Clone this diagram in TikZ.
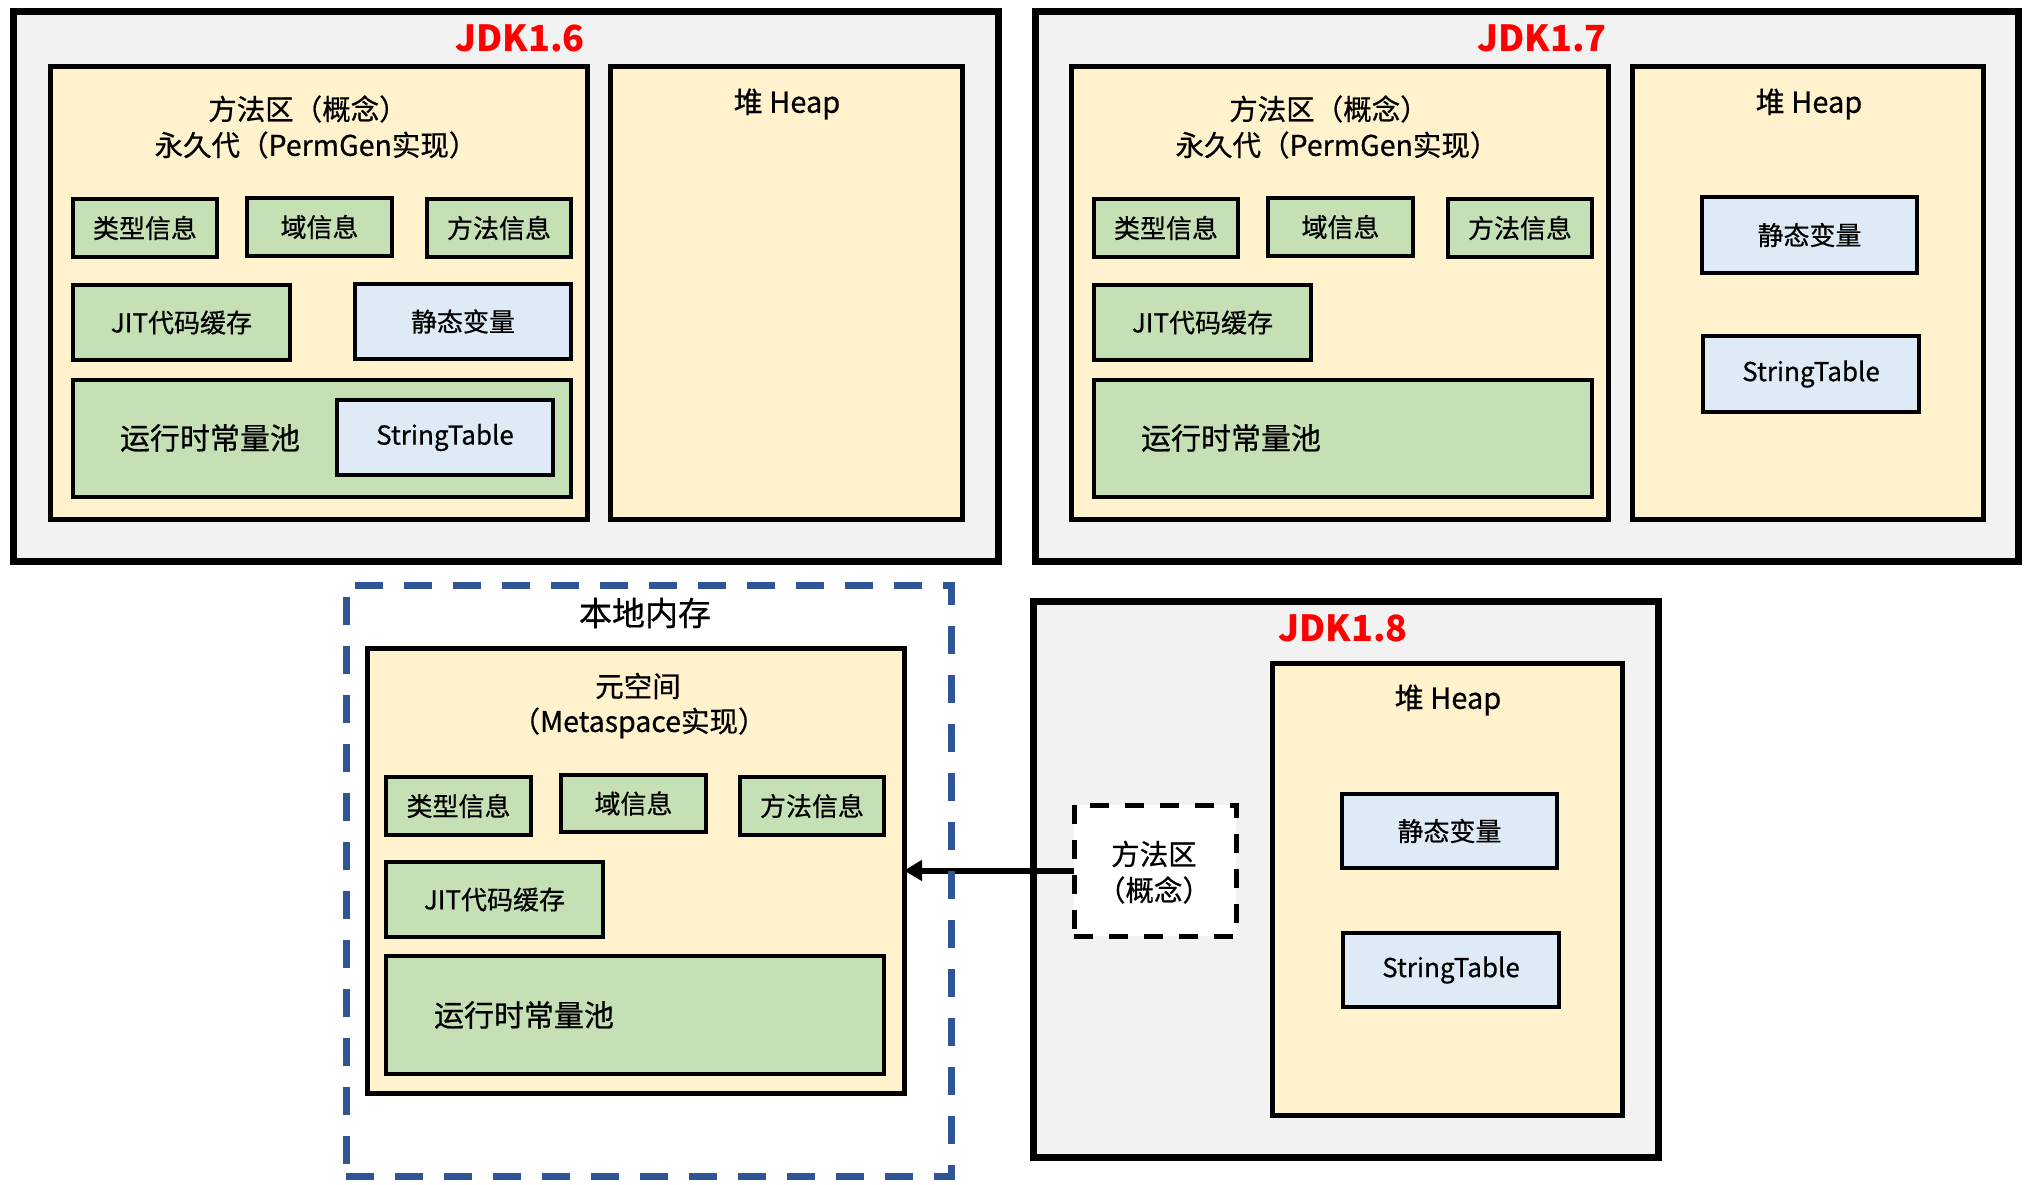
\documentclass[tikz,border=0pt]{standalone}
\usepackage{fontspec}
\setmainfont{Noto Sans CJK SC}
\newfontfamily\medfont{Noto Sans CJK SC}[FakeBold=0.6]
\usetikzlibrary{arrows.meta}
\definecolor{outerfill}{HTML}{F2F2F2}
\definecolor{areafill}{HTML}{FFF2CC}
\definecolor{greenfill}{HTML}{C5E0B4}
\definecolor{bluefill}{HTML}{DEEBF7}
\definecolor{dashblue}{HTML}{2F5597}
\definecolor{titlered}{HTML}{FF0000}
\newcommand\bx[7]{\node[#2, minimum width=#5pt-#3pt, minimum height=#6pt-#4pt] (#1) at ({(#3+#5)/2},{(#4+#6)/2}) {#7};}
\tikzset{
  every node/.style={inner sep=0pt, outer sep=0pt},
  outerbox/.style={draw, line width=7pt, fill=outerfill},
  areabox/.style={draw, line width=5pt, fill=areafill},
  greenbox/.style={draw, line width=3.5pt, fill=greenfill, font=\medfont\fontsize{26}{30}\selectfont},
  bluebox/.style={draw, line width=3.5pt, fill=bluefill, font=\medfont\fontsize{26}{30}\selectfont},
  jdktitle/.style={text=titlered, font=\fontsize{36}{40}\selectfont\bfseries},
  areatitle/.style={font=\medfont\fontsize{28.5}{32}\selectfont},
  heaptitle/.style={font=\medfont\fontsize{29}{33}\selectfont},
  pooltext/.style={font=\medfont\fontsize{30}{34}\selectfont},
  mfqdash/.style={draw, line width=5pt, fill=white, dash pattern=on 19pt off 16pt},
  localdash/.style={draw=dashblue, line width=7pt, dash pattern=on 28pt off 21pt},
}
\begin{document}
\begin{tikzpicture}[x=1pt,y=-1pt]
\useasboundingbox[fill=white] (0,0) rectangle (2026,1185);

% ---------------- JDK1.6 ----------------
\bx{o6}{outerbox}{13}{12}{998}{561}{}
\node[jdktitle] (t6) at (520,38) {JDK1.6};
\bx{m6}{areabox}{50}{67}{587}{519}{}
\bx{h6}{areabox}{610}{67}{962}{519}{}
\node[areatitle] (m6a) at (308,109) {方法区（概念）};
\node[areatitle] (m6b) at (316,145) {永久代（PermGen实现）};
\node[heaptitle] (h6t) at (787,104) {堆 Heap};
\bx{lx6}{greenbox}{73}{199}{217}{257}{类型信息}
\bx{yx6}{greenbox}{247}{198}{392}{256}{域信息}
\bx{ff6}{greenbox}{427}{199}{571}{257}{方法信息}
\bx{jit6}{greenbox}{73}{285}{290}{360}{JIT代码缓存}
\bx{jt6}{bluebox}{355}{284}{571}{359}{静态变量}
\bx{cp6}{greenbox}{73}{380}{571}{497}{}
\node[pooltext] (cp6t) at (210,438) {运行时常量池};
\bx{st6}{bluebox}{337}{400}{553}{475}{StringTable}

% ---------------- JDK1.7 ----------------
\bx{o7}{outerbox}{1035}{12}{2018}{561}{}
\node[jdktitle] (t7) at (1542,38) {JDK1.7};
\bx{m7}{areabox}{1071}{67}{1608}{519}{}
\bx{h7}{areabox}{1632}{67}{1983}{519}{}
\node[areatitle] (m7a) at (1329,109) {方法区（概念）};
\node[areatitle] (m7b) at (1337,145) {永久代（PermGen实现）};
\node[heaptitle] (h7t) at (1809,104) {堆 Heap};
\bx{lx7}{greenbox}{1094}{199}{1238}{257}{类型信息}
\bx{yx7}{greenbox}{1268}{198}{1413}{256}{域信息}
\bx{ff7}{greenbox}{1448}{199}{1592}{257}{方法信息}
\bx{jit7}{greenbox}{1094}{285}{1311}{360}{JIT代码缓存}
\bx{cp7}{greenbox}{1094}{380}{1592}{497}{}
\node[pooltext] (cp7t) at (1231,438) {运行时常量池};
\bx{jt7}{bluebox}{1702}{197}{1917}{273}{静态变量}
\bx{st7}{bluebox}{1703}{336}{1919}{412}{StringTable}

% ---------------- JDK1.8 ----------------
\bx{o8}{outerbox}{1033}{601}{1658}{1157}{}
\node[jdktitle] (t8) at (1343,628) {JDK1.8};
\bx{h8}{areabox}{1272}{663}{1622}{1115}{}
\node[heaptitle] (h8t) at (1448,700) {堆 Heap};
\bx{jt8}{bluebox}{1342}{794}{1557}{868}{静态变量}
\bx{st8}{bluebox}{1343}{933}{1559}{1007}{StringTable}
\bx{mfq}{mfqdash}{1074}{805}{1236}{936}{}
\node[areatitle] (mfqa) at (1154,854) {方法区};
\node[areatitle] (mfqb) at (1154,890) {（概念）};

% ---------------- 本地内存 ----------------
\bx{meta}{areabox}{367}{648}{904}{1093}{}
\node[font=\medfont\fontsize{33}{37}\selectfont] (lm) at (645,613) {本地内存};
\node[areatitle] (metaa) at (638,686) {元空间};
\node[areatitle] (metab) at (639,723) {（Metaspace实现）};
\bx{lx8}{greenbox}{386}{777}{531}{835}{类型信息}
\bx{yx8}{greenbox}{561}{775}{706}{832}{域信息}
\bx{ff8}{greenbox}{740}{777}{884}{835}{方法信息}
\bx{jit8}{greenbox}{386}{862}{603}{937}{JIT代码缓存}
\bx{cp8}{greenbox}{386}{956}{884}{1074}{}
\node[pooltext] (cp8t) at (524,1015) {运行时常量池};

\draw[line width=6pt, -{Triangle[length=18pt,width=20pt]}] (mfq.west) -- (meta.east |- mfq.west);

\bx{local}{localdash}{346}{585}{951}{1176}{}
\end{tikzpicture}
\end{document}
